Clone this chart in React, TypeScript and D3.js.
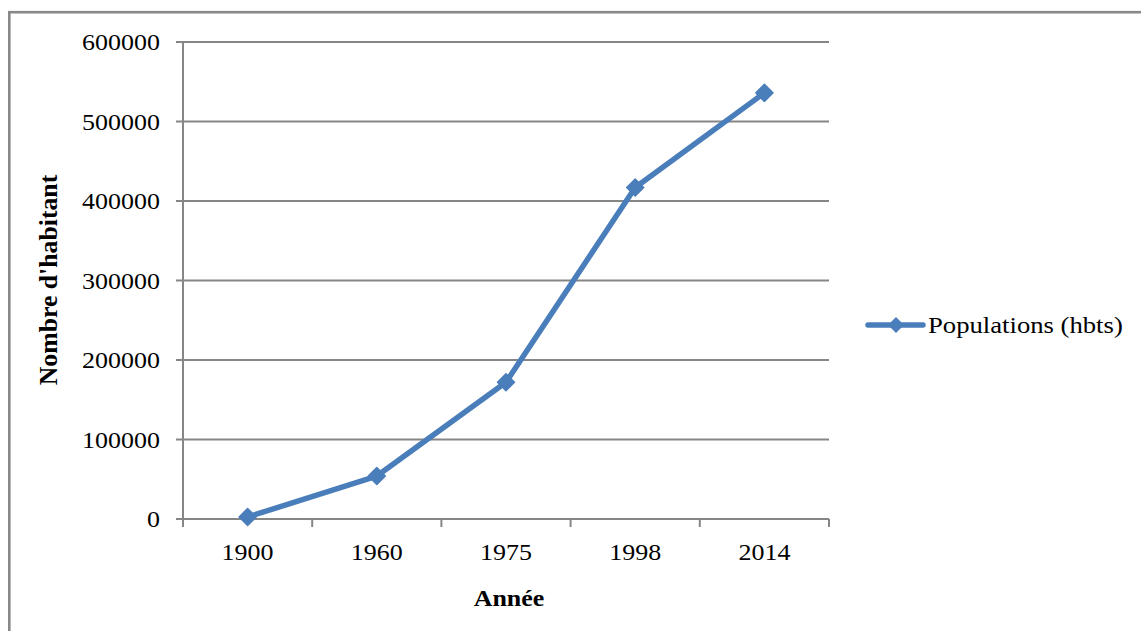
import React from "react";
import * as d3 from "d3";

const years = ["1900", "1960", "1975", "1998", "2014"];
const population = [2500, 54000, 172000, 417000, 536000];
const yTicks = [0, 100000, 200000, 300000, 400000, 500000, 600000];
const seriesName = "Populations (hbts)";

const W = 1141;
const H = 631;
const plot = { left: 183, right: 829, top: 42, bottom: 519 };
const BLUE = "#4A7EBB";
const GRID = "#868686";
const FONT = "'Liberation Serif', 'Times New Roman', serif";
const FS = 23;
const SX = 1.13; // horizontal stretch of the lettering

function diamond(cx: number, cy: number, r: number) {
  return `M${cx},${cy - r}L${cx + r},${cy}L${cx},${cy + r}L${cx - r},${cy}Z`;
}

export default function App() {
  const x = d3.scaleBand<string>().domain(years).range([plot.left, plot.right]).padding(0);
  const y = d3.scaleLinear().domain([0, 600000]).range([plot.bottom, plot.top]);
  const cx = (d: string) => (x(d) as number) + x.bandwidth() / 2;

  const line = d3
    .line<number>()
    .x((_, i) => cx(years[i]))
    .y((v) => y(v));

  const xTickPos = [...years.map((d) => x(d) as number), plot.right];

  return (
    <svg
      width={W}
      height={H}
      style={{ position: "absolute", left: 0, top: 0, background: "#fff" }}
    >
      <rect x={9.3} y={12.2} width={W + 20} height={H + 20} fill="#fff" stroke="#888" strokeWidth={2.6} />

      {/* horizontal gridlines and y ticks */}
      {yTicks.map((t) => (
        <g key={t}>
          <line x1={plot.left - 7} x2={plot.right} y1={y(t)} y2={y(t)} stroke={GRID} strokeWidth={2} />
          <g transform={`translate(160,${y(t) + 8}) scale(${SX},1)`}>
            <text textAnchor="end" fontFamily={FONT} fontSize={FS} fill="#000">
              {t}
            </text>
          </g>
        </g>
      ))}

      {/* y axis */}
      <line x1={plot.left} x2={plot.left} y1={plot.top} y2={plot.bottom} stroke={GRID} strokeWidth={2} />

      {/* x ticks */}
      {xTickPos.map((p, i) => (
        <line key={i} x1={p} x2={p} y1={plot.bottom} y2={plot.bottom + 8} stroke={GRID} strokeWidth={2} />
      ))}
      {years.map((d) => (
        <g key={d} transform={`translate(${cx(d)},${plot.bottom + 41}) scale(${SX},1)`}>
          <text textAnchor="middle" fontFamily={FONT} fontSize={FS} fill="#000">
            {d}
          </text>
        </g>
      ))}

      {/* axis titles */}
      <g transform={`translate(509,606) scale(${SX},1)`}>
        <text textAnchor="middle" fontFamily={FONT} fontSize={FS} fontWeight="bold" fill="#000">
          Année
        </text>
      </g>
      <g transform={`translate(57,280) rotate(-90) scale(1.12,1.1)`}>
        <text textAnchor="middle" fontFamily={FONT} fontSize={FS} fontWeight="bold" fill="#000">
          Nombre d'habitant
        </text>
      </g>

      {/* series */}
      <path d={line(population) || ""} fill="none" stroke={BLUE} strokeWidth={5.5} strokeLinejoin="round" />
      {population.map((v, i) => (
        <path key={i} d={diamond(cx(years[i]), y(v), 8.5)} fill={BLUE} stroke={BLUE} strokeWidth={1.5} strokeLinejoin="round" />
      ))}

      {/* legend */}
      <line x1={868} x2={923} y1={325} y2={325} stroke={BLUE} strokeWidth={5.5} strokeLinecap="round" />
      <path d={diamond(896, 325, 8)} fill={BLUE} />
      <g transform={`translate(928,333) scale(1.16,1)`}>
        <text fontFamily={FONT} fontSize={FS} fill="#000">
          {seriesName}
        </text>
      </g>
    </svg>
  );
}
